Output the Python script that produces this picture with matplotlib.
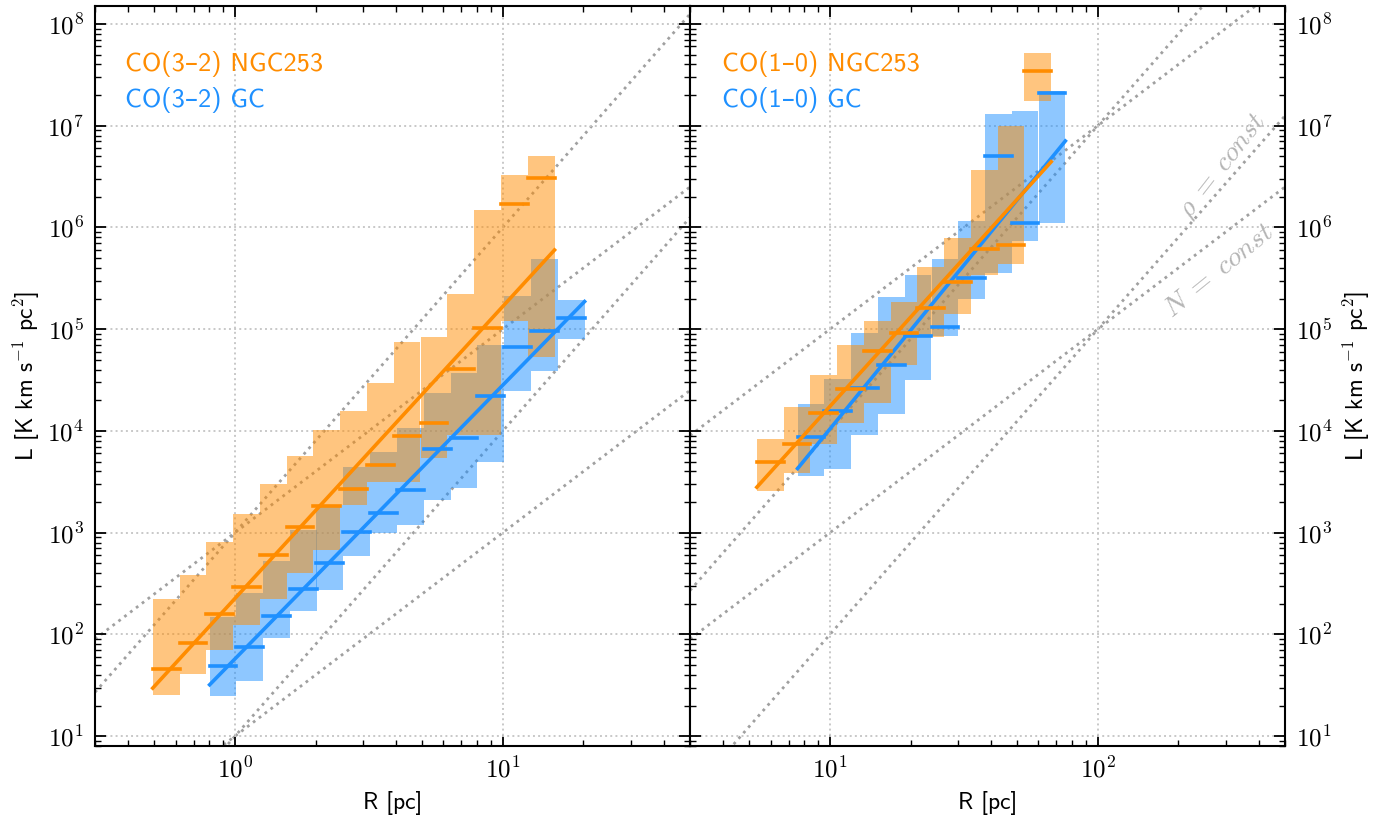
import os
import numpy as np
import matplotlib
matplotlib.use('Agg')
import matplotlib.pyplot as plt
from matplotlib import font_manager
from matplotlib.ticker import FixedLocator, FuncFormatter, NullFormatter

# Computer Modern Sans ships with matplotlib, register it for the text
cmss = os.path.join(matplotlib.get_data_path(), 'fonts', 'ttf', 'cmss10.ttf')
font_manager.fontManager.addfont(cmss)
plt.rcParams['font.family'] = ['cmss10', 'DejaVu Sans']
plt.rcParams['mathtext.fontset'] = 'cm'
plt.rcParams['axes.unicode_minus'] = False

#%% DATA

# CO(3-2), left panel: bin centres in pc (bins are 0.1 dex wide)
r_32_ngc = [0.553, 0.697, 0.877, 1.104, 1.39, 1.75, 2.20, 2.77, 3.49, 4.39, 5.53, 6.97, 8.77, 11.04, 13.9]
med_32_ngc = [45.5, 82.6, 158, 293, 601, 1132, 1824, 2681, 4613, 8955, 12020, 40550, 1.03e5, 1.71e6, 3.06e6]
lo_32_ngc = [25.2, 40.6, 70, 124, 222, 403, 673, 1862, 3162, 3162, 5370, 9100, 9100, 1.2e5, 53600]
hi_32_ngc = [222, 382, 802, 1520, 3000, 5650, 10190, 15670, 29700, 74100, 83000, 2.21e5, 1.48e6, 3.27e6, 5.04e6]

r_32_gc = [0.902, 1.135, 1.43, 1.80, 2.26, 2.85, 3.59, 4.52, 5.69, 7.16, 9.02, 11.35, 14.3, 18.0]
med_32_gc = [48.7, 75.4, 151, 277, 505, 1019, 1545, 2620, 6670, 8550, 21980, 66700, 96400, 1.28e5]
lo_32_gc = [24.8, 34.9, 92.5, 170, 272, 588, 982, 1185, 2090, 2720, 4970, 24800, 39000, 79400]
hi_32_gc = [149, 258, 525, 1059, 1862, 4436, 6240, 10600, 23400, 36700, 69800, 2.11e5, 4.89e5, 1.93e5]

# CO(1-0), right panel
r_10_ngc = [5.98, 7.53, 9.48, 11.9, 15.0, 18.9, 23.8, 29.9, 37.7, 47.4, 59.7]
med_10_ngc = [4932, 7413, 15070, 25940, 60530, 92260, 1.61e5, 2.92e5, 6.14e5, 6.71e5, 3.43e7]
lo_10_ngc = [2580, 3870, 7410, 12000, 18600, 44700, 83200, 1.4e5, 3.39e5, 4.37e5, 1.76e7]
hi_10_ngc = [8400, 17260, 35400, 69800, 1.2e5, 1.86e5, 4.07e5, 7.94e5, 3.67e6, 1.0e7, 5.22e7]

r_10_gc = [8.49, 10.69, 13.46, 16.94, 21.3, 26.9, 33.8, 42.5, 53.5, 67.4]
med_10_gc = [8750, 15670, 26550, 44670, 85500, 1.045e5, 3.15e5, 5.07e6, 1.11e6, 2.11e7]
lo_10_gc = [3590, 4270, 9120, 14800, 31600, 85100, 2.0e5, 3.55e5, 7.4e5, 1.1e6]
hi_10_gc = [18200, 32400, 91200, 2.09e5, 3.39e5, 4.9e5, 1.16e6, 1.3e7, 1.38e7, 2.21e7]

# power law fits: log L = a + b log R
fit_32_ngc = (2.354, 2.87)
fit_32_gc = (1.760, 2.69)
fit_10_ngc = (1.332, 2.91)
fit_10_gc = (0.80, 3.22)

# reference lines L = C * R^n  (n=3 -> rho=const, n=2 -> N=const)
ref_left = [(1e3, 3), (1e3, 2), (10, 3), (10, 2)]
ref_right = [(1e3, 2), (10, 3), (10, 2), (0.1, 3)]

half_bin = 0.05  # dex
orange = 'darkorange'
blue = 'dodgerblue'


def draw_boxes(ax, rc, lo, hi, color):
    rc = np.array(rc)
    r_lo = rc * 10**(-half_bin)
    r_hi = rc * 10**half_bin
    lo = np.array(lo)
    hi = np.array(hi)
    ax.bar(r_lo, hi - lo, bottom=lo, width=r_hi - r_lo, align='edge',
           color=color, alpha=0.5, lw=0, zorder=2)


def draw_lines(ax, rc, med, fit, color):
    rc = np.array(rc)
    r_lo = rc * 10**(-half_bin)
    r_hi = rc * 10**half_bin
    seg = ax.hlines(med, r_lo, r_hi, color=color, lw=2.6, zorder=4)
    seg.set_capstyle('projecting')
    rr = np.array([r_lo[0], r_hi[-1]])
    ax.plot(rr, 10**(fit[0] + fit[1]*np.log10(rr)), color=color, lw=2.6, zorder=4)


def log_ticks(lo_exp, hi_exp, vmin, vmax):
    major = [10.0**e for e in range(lo_exp, hi_exp + 1) if vmin <= 10.0**e <= vmax]
    minor = [m * 10.0**e for e in range(lo_exp - 1, hi_exp + 1) for m in range(2, 10)
             if vmin <= m * 10.0**e <= vmax]
    return major, minor


def style_axis(ax, xlim):
    ylim = (8, 1.5e8)
    ax.set_xscale('log')
    ax.set_yscale('log')
    ax.set_xlim(*xlim)
    ax.set_ylim(*ylim)
    fmt = FuncFormatter(lambda v, p: r'$10^{%d}$' % int(round(np.log10(v))))
    for axis, lim in ((ax.xaxis, xlim), (ax.yaxis, ylim)):
        major, minor = log_ticks(-1, 9, lim[0], lim[1])
        axis.set_major_locator(FixedLocator(major))
        axis.set_minor_locator(FixedLocator(minor))
        axis.set_major_formatter(fmt)
        axis.set_minor_formatter(NullFormatter())
    ax.tick_params(which='both', direction='in', top=True, right=True, left=True, bottom=True)
    ax.tick_params(which='major', length=8, width=1.3, labelsize=18, pad=8)
    ax.tick_params(which='minor', length=4, width=1.0)
    for s in ax.spines.values():
        s.set_linewidth(1.5)
    ax.grid(True, which='major', ls=':', color='#c8c8c8', lw=1.4)
    ax.set_xlabel('R [pc]', fontsize=17, labelpad=6)


fig = plt.figure(figsize=(13.85, 8.15), dpi=100)
ax1 = fig.add_axes([95/1385, 1 - 746/815, 595/1385, 740/815])
ax2 = fig.add_axes([690/1385, 1 - 746/815, 595/1385, 740/815])

ylab = r'L [K km s$^{\mathsf{-1}}$ pc$^{\mathsf{2}}$]'

#%% left panel
style_axis(ax1, (0.3, 50))
rr = np.array([0.3, 50])
for c, n in ref_left:
    ax1.plot(rr, c * rr**n, ls=':', color='#a0a0a0', lw=2, zorder=1)
draw_boxes(ax1, r_32_gc, lo_32_gc, hi_32_gc, blue)
draw_boxes(ax1, r_32_ngc, lo_32_ngc, hi_32_ngc, orange)
draw_lines(ax1, r_32_gc, med_32_gc, fit_32_gc, blue)
draw_lines(ax1, r_32_ngc, med_32_ngc, fit_32_ngc, orange)
ax1.text(0.05, 0.922, 'CO(3–2) NGC253', color=orange, fontsize=19, transform=ax1.transAxes, va='center')
ax1.text(0.05, 0.873, 'CO(3–2) GC', color=blue, fontsize=19, transform=ax1.transAxes, va='center')
ax1.set_ylabel(ylab, fontsize=17, labelpad=4)

#%% right panel
style_axis(ax2, (3, 500))
rr = np.array([3, 500])
for c, n in ref_right:
    ax2.plot(rr, c * rr**n, ls=':', color='#a0a0a0', lw=2, zorder=1)
draw_boxes(ax2, r_10_gc, lo_10_gc, hi_10_gc, blue)
draw_boxes(ax2, r_10_ngc, lo_10_ngc, hi_10_ngc, orange)
draw_lines(ax2, r_10_gc, med_10_gc, fit_10_gc, blue)
draw_lines(ax2, r_10_ngc, med_10_ngc, fit_10_ngc, orange)
ax2.text(0.054, 0.922, 'CO(1–0) NGC253', color=orange, fontsize=19, transform=ax2.transAxes, va='center')
ax2.text(0.054, 0.873, 'CO(1–0) GC', color=blue, fontsize=19, transform=ax2.transAxes, va='center')
ax2.text(293, 4.0e6, r'$\rho\;=\;const$', color='#b4b4b4', fontsize=20, rotation=52,
         ha='center', va='center', rotation_mode='anchor')
ax2.text(283, 3.8e5, r'$N\;=\;const$', color='#b4b4b4', fontsize=20, rotation=39,
         ha='center', va='center', rotation_mode='anchor')
ax2.tick_params(which='both', labelleft=False, labelright=True)
ax2.yaxis.set_label_position('right')
ax2.set_ylabel(ylab, fontsize=17, labelpad=6)

fig.savefig('out.png', dpi=100)
